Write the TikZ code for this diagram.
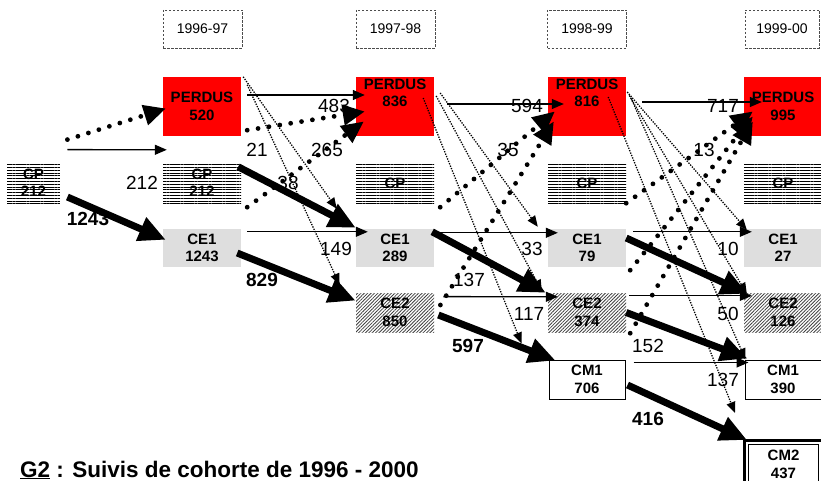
\documentclass[tikz,border=0pt]{standalone}
\usepackage{fontspec}
\setmainfont{Liberation Sans}
\usetikzlibrary{arrows.meta,calc,patterns.meta}

\begin{document}
\begin{tikzpicture}[x=1pt,y=-1pt]
\tikzset{box/.style={minimum width=78pt,inner sep=0pt,align=center,font=\fontsize{15}{17.5}\selectfont\bfseries}}
\tikzset{perdus/.style={box,fill=red,minimum height=59pt}}
\tikzset{perdtxt/.style={font=\fontsize{15}{17.5}\selectfont\bfseries,align=center,inner sep=2pt,anchor=north}}
\tikzset{cpbox/.style={box,minimum height=40pt,pattern={Lines[angle=0,distance=2.8pt,line width=0.8pt]}}}
\tikzset{ceun/.style={box,fill=black!13,minimum height=38pt}}
\tikzset{cedeux/.style={box,minimum height=39pt,pattern={Lines[angle=45,distance=2.4pt,line width=0.8pt]},pattern color=black!75}}
\tikzset{cmun/.style={box,draw,line width=1pt,minimum width=76pt,minimum height=39pt}}
\tikzset{cmdeux/.style={box,draw,line width=3pt,minimum height=48pt,
  path picture={\draw[line width=1pt] ($(path picture bounding box.north west)+(4,4)$) rectangle ($(path picture bounding box.south east)+(-4,-4)$);}}}
\tikzset{annee/.style={draw=black!70,dash pattern=on 2.5pt off 1.5pt,line width=0.8pt,minimum width=79pt,minimum height=38pt,inner sep=0pt,font=\fontsize{14}{16}\selectfont}}
\tikzset{fleche/.style={line width=1.3pt,-{Triangle[length=12pt,width=10pt]}}}
\tikzset{epaisse/.style={line width=7pt,-{Triangle[length=27pt,width=24pt]}}}
\tikzset{pointille/.style={line width=1.3pt,dash pattern=on 1.3pt off 1.3pt,-{Triangle[length=11pt,width=9pt]}}}
\tikzset{grospoints/.style={line width=4.8pt,line cap=round,dash pattern=on 0pt off 11pt,-{Triangle[length=22pt,width=20pt]}}}
\tikzset{nombre/.style={inner sep=0pt,font=\fontsize{19}{20}\selectfont}}
\tikzset{nombregras/.style={inner sep=0pt,font=\fontsize{19}{20}\selectfont\bfseries}}

\useasboundingbox (0,0) rectangle (821,481);

\node[annee] (an1) at (202.5,29) {1996-97};
\node[annee] (an2) at (395.5,29) {1997-98};
\node[annee] (an3) at (587,29) {1998-99};
\node[annee,minimum width=74pt] (an4) at (782,29) {1999-00};

\node[cpbox,minimum width=53pt] (cp0) at (33.5,183) {CP\\212};

\node[perdus] (per1) at (202,106.5) {PERDUS\\520};
\node[cpbox] (cp1) at (202,183) {CP\\212};
\node[ceun] (ceun1) at (202,248) {CE1\\1243};

\node[perdus] (per2) at (395,106.5) {};
\node[perdtxt] (tper2) at (per2.north) {PERDUS\\836};
\node[cpbox] (cp2) at (395,183) {CP};
\node[ceun] (ceun2) at (395,248) {CE1\\289};
\node[cedeux] (cedeux2) at (395,312.5) {CE2\\850};

\node[perdus] (per3) at (587,106.5) {};
\node[perdtxt] (tper3) at (per3.north) {PERDUS\\816};
\node[cpbox] (cp3) at (587,183) {CP};
\node[ceun] (ceun3) at (587,248) {CE1\\79};
\node[cedeux] (cedeux3) at (587,312.5) {CE2\\374};
\node[cmun] (cmun3) at (587,379.5) {CM1\\706};

\node[perdus] (per4) at (783,106.5) {PERDUS\\995};
\node[cpbox] (cp4) at (783,183) {CP};
\node[ceun] (ceun4) at (783,248) {CE1\\27};
\node[cedeux] (cedeux4) at (783,312.5) {CE2\\126};
\node[cmun] (cmun4) at (783,379.5) {CM1\\390};
\node[cmdeux] (cmdeux4) at (783.5,464.5) {CM2\\437};

\node[nombre] (l212) at (142,183) {212};
\node[nombre] (l483) at (334,106) {483};
\node[nombre] (l21) at (257,150) {21};
\node[nombre] (l265) at (327,150) {265};
\node[nombre] (l38) at (288,183) {38};
\node[nombre] (l149) at (336,249) {149};
\node[nombre] (l594) at (527,106) {594};
\node[nombre] (l35) at (508,150) {35};
\node[nombre] (l137a) at (469,280) {137};
\node[nombre] (l33) at (532,249) {33};
\node[nombre] (l117) at (529,314) {117};
\node[nombre] (l717) at (723,106) {717};
\node[nombre] (l13) at (704,150) {13};
\node[nombre] (l10) at (728,249) {10};
\node[nombre] (l50) at (728,314) {50};
\node[nombre] (l152) at (648,346) {152};
\node[nombre] (l137b) at (723,380) {137};
\node[nombregras] (l1243) at (88,219) {1243};
\node[nombregras] (l829) at (262,280) {829};
\node[nombregras] (l597) at (468,346) {597};
\node[nombregras] (l416) at (648,419) {416};

\draw[grospoints] ($(cp0.north east)+(7,-23)$) -- ($(per1.west)+(3,2)$);
\draw[fleche] ($(cp0.north east)+(7,-13)$) -- ($(cp1.north west)+(4,-13)$);
\draw[epaisse] ($(cp0.east)+(7,14)$) -- ($(ceun1.north west)+(3,11)$);

\draw[fleche] ($(per1.east)+(6,-11.5)$) -- ($(per2.west)+(9,-11.5)$);
\draw[grospoints] ($(per1.south east)+(6,-6)$) -- ($(per2.west)+(9,5)$);
\draw[grospoints] ($(cp1.south east)+(6,4)$) -- ($(per2.west)+(8,15)$);
\draw[epaisse] ($(cp1.north east)+(-3,4)$) -- ($(ceun2.north west)+(0,-1)$);
\draw[pointille] ($(per1.north east)+(2,0)$) -- ($(ceun2.north west)+(-19,-20)$);
\draw[pointille] ($(per1.north east)+(6,8)$) -- ($(cedeux2.north west)+(-16,-8)$);
\draw[fleche] ($(ceun1.north east)+(6,3)$) -- ($(ceun2.north west)+(12,3)$);
\draw[epaisse] ($(ceun1.east)+(-4,5)$) -- ($(cedeux2.north west)+(0,8)$);

\draw[fleche] ($(per2.east)+(13,-2.5)$) -- ($(per3.west)+(16,-2.5)$);
\draw[grospoints] ($(cp2.south east)+(6,4)$) -- ($(per3.west)+(7,5)$);
\draw[grospoints] ($(cedeux2.east)+(6,-7.5)$) -- ($(per3.west)+(6,15)$);
\draw[pointille] ($(per2.east)+(6,-13.5)$) -- ($(ceun3.north west)+(-10,-2)$);
\draw[pointille] ($(per2.east)+(2,-10.5)$) -- ($(cedeux3.north west)+(-6,-2)$);
\draw[pointille] ($(per2.east)+(-11,-8.5)$) -- ($(cmun3.north west)+(-27,-16)$);
\draw[fleche] ($(ceun2.north east)+(3,4)$) -- ($(ceun3.north west)+(10,4)$);
\draw[epaisse] ($(ceun2.north east)+(-2,3)$) -- ($(cedeux3.north west)+(-2,0)$);
\draw[fleche] ($(cedeux2.north east)+(9,4)$) -- ($(cedeux3.north west)+(10,4)$);
\draw[epaisse] ($(cedeux2.east)+(4,2.5)$) -- ($(cmun3.north west)+(7,1)$);

\draw[fleche] ($(per3.east)+(16,-4.5)$) -- ($(per4.west)+(18,-4.5)$);
\draw[grospoints] (cp3.south east) -- ($(per4.west)+(9,5)$);
\draw[grospoints] ($(ceun3.south east)+(4,3)$) -- ($(per4.west)+(9,10)$);
\draw[grospoints] ($(cedeux3.south east)+(4,1)$) -- ($(per4.west)+(9,15)$);
\draw[pointille] ($(per3.east)+(1,-14.5)$) -- ($(ceun4.north west)+(3,1)$);
\draw[pointille] ($(per3.east)+(3,-11)$) -- ($(cedeux4.north west)+(3,1)$);
\draw[pointille] ($(per3.east)+(5,-8)$) -- ($(cmun4.north west)+(1,0)$);
\draw[pointille] ($(per3.east)+(-18,-9.5)$) -- ($(cmdeux4.north west)+(-8,-26)$);
\draw[fleche] ($(ceun3.north east)+(7,3)$) -- ($(ceun4.north west)+(8,3)$);
\draw[epaisse] ($(ceun3.east)+(0,-10)$) -- ($(cedeux4.north west)+(4,1)$);
\draw[fleche] ($(cedeux3.north east)+(3,3)$) -- ($(cedeux4.north west)+(8,3)$);
\draw[epaisse] (cedeux3.east) -- ($(cmun4.north west)+(3,-1)$);
\draw[fleche] ($(cmun3.north east)+(8,3)$) -- ($(cmun4.north west)+(4,3)$);
\draw[epaisse] ($(cmun3.east)+(2,5.5)$) -- ($(cmdeux4.north west)+(4,1)$);

\node[anchor=base west,inner sep=0pt,font=\fontsize{22.5}{24}\selectfont\bfseries] (titre) at (20,477) {\underline{G2} : Suivis de cohorte de 1996 - 2000};
\end{tikzpicture}
\end{document}
